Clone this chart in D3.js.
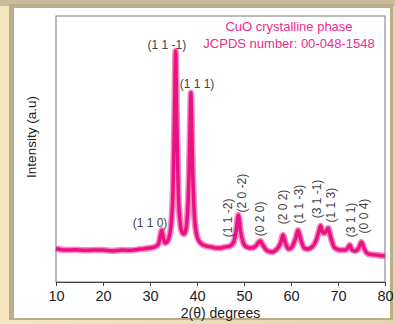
<!DOCTYPE html>
<html>
<head>
<meta charset="utf-8">
<script src="https://cdn.jsdelivr.net/npm/d3@7"></script>
<style>
  body { margin: 0; background: #efe1bb; }
  svg { display: block; }
  text { font-family: "Liberation Sans", Arial, sans-serif; }
</style>
</head>
<body>
<svg id="chart" width="395" height="324"></svg>
<script>
const W = 395, H = 324;

// XRD pattern: 2theta (deg) and intensity (a.u.)
const twoTheta = [10, 12, 14, 16, 18, 20, 22, 24, 26, 28, 30, 31, 31.8, 32.2, 32.5, 32.8, 33.2, 33.6, 34.0, 34.5,
  34.9, 35.2, 35.45, 35.7, 36.0, 36.4, 36.8, 37.2, 37.6, 38.0, 38.3, 38.55, 38.7, 38.85, 39.1, 39.4, 39.8, 40.3,
  41, 42, 43, 44, 45, 46, 47, 47.8, 48.3, 48.8, 49.3, 49.8, 50.5, 51.5, 52.5, 53.0, 53.5, 54.0, 55, 56, 57,
  57.8, 58.3, 58.8, 59.5, 60.3, 61.0, 61.5, 62.0, 62.8, 63.5, 64.5, 65.3, 65.9, 66.3, 66.8, 67.2, 67.9, 68.5,
  69.3, 70.5, 71.5, 72.1, 72.5, 73.0, 73.7, 74.4, 75.0, 75.6, 76.5, 78, 80];
const intensity = [126, 120, 121, 119, 120, 120, 117, 120, 119, 124, 128, 132, 143, 173, 195, 169, 147, 150, 165, 214,
  346, 609, 868, 609, 346, 226, 188, 180, 195, 263, 402, 609, 711, 609, 402, 263, 188, 158,
  143, 135, 132, 128, 128, 132, 135, 150, 188, 252, 188, 150, 132, 128, 135, 147, 154, 139, 117, 113, 124,
  147, 177, 147, 124, 135, 165, 195, 165, 128, 124, 132, 154, 188, 211, 184, 184, 203, 165,
  128, 120, 120, 128, 139, 120, 117, 128, 150, 124, 105, 102, 98];

// peak labels: text, 2theta, intensity position, vertical?
const peakLabels = ["(1 1 0)", "(1 1 -1)", "(1 1 1)", "(1 1 -2)", "(2 0 -2)", "(0 2 0)", "(2 0 2)", "(1 1 -3)",
  "(3 1 -1)", "(1 1 3)", "(3 1 1)", "(0 0 4)"];
const labelTheta = [30.0, 33.6, 40.0, 46.6, 49.6, 53.4, 58.3, 61.7, 65.5, 68.5, 72.8, 75.5];
const labelInt = [222, 891, 744, 241, 334, 237, 282, 293, 312, 289, 233, 248];
const labelVertical = [false, false, false, true, true, true, true, true, true, true, true, true];

const xTicks = [10, 20, 30, 40, 50, 60, 70, 80];
const xMinor = [15, 25, 35, 45, 55, 65, 75];
const legendLines = ["CuO crystalline phase", "JCPDS number: 00-048-1548"];

const svg = d3.select("#chart");

// beige surround with a soft shadow
const defs = svg.append("defs");
const grad = defs.append("linearGradient").attr("id", "side").attr("x1", 0).attr("x2", 1);
grad.append("stop").attr("offset", 0).attr("stop-color", "#f4e6c0");
grad.append("stop").attr("offset", 1).attr("stop-color", "#e4d4ab");
svg.append("rect").attr("width", W).attr("height", H).attr("fill", "url(#side)");
svg.append("rect").attr("width", W).attr("height", 6).attr("fill", "#cbbb98");
svg.append("rect").attr("x", 9).attr("y", 4).attr("width", 384).attr("height", 316).attr("fill", "#bcad8d");
svg.append("rect").attr("x", 14).attr("y", 8).attr("width", 376).attr("height", 310).attr("fill", "#fff");

const x = d3.scaleLinear().domain([10, 80]).range([56, 385]);
const y = d3.scaleLinear().domain([0, 1000]).range([282, 16]);

// frame
svg.append("rect")
  .attr("x", x(10)).attr("y", y(1000))
  .attr("width", x(80) - x(10)).attr("height", y(0) - y(1000))
  .attr("fill", "none").attr("stroke", "#777").attr("stroke-width", 1);

// pattern (thick band stands in for the noisy trace)
const line = d3.line()
  .x((d, i) => x(twoTheta[i]))
  .y(d => y(d))
  .curve(d3.curveMonotoneX);

svg.append("path")
  .datum(intensity)
  .attr("d", line)
  .attr("fill", "none")
  .attr("stroke", "#f0409a")
  .attr("stroke-width", 6.5)
  .attr("stroke-opacity", 0.6)
  .attr("stroke-linejoin", "round");
svg.append("path")
  .datum(intensity)
  .attr("d", line)
  .attr("fill", "none")
  .attr("stroke", "#ea1282")
  .attr("stroke-width", 3.5)
  .attr("stroke-linejoin", "round");

// x axis
const gx = svg.append("g").attr("transform", `translate(0,${y(0)})`);
gx.call(d3.axisBottom(x).tickValues(xMinor).tickSize(2).tickFormat(""));
gx.call(d3.axisBottom(x).tickValues(xTicks).tickSize(4).tickPadding(5).tickFormat(d3.format("d")));
gx.selectAll("path.domain").attr("stroke", "#444");
gx.selectAll("line").attr("stroke", "#444");
gx.selectAll("text").attr("font-size", 14.5).attr("fill", "#222")
  .attr("font-family", "'Liberation Sans', Arial, sans-serif");

svg.append("text")
  .attr("x", (x(10) + x(80)) / 2).attr("y", 318)
  .attr("text-anchor", "middle").attr("font-size", 14).attr("fill", "#222")
  .text("2(θ) degrees");

svg.append("text")
  .attr("transform", `translate(31,${(y(0) + y(1000)) / 2 - 12}) rotate(-90)`)
  .attr("text-anchor", "middle").attr("dominant-baseline", "central")
  .attr("font-size", 13.5).attr("fill", "#222")
  .text("Intensity (a.u)");

// legend text
svg.selectAll(".legend").data(legendLines).join("text")
  .attr("class", "legend")
  .attr("x", 289).attr("y", (d, i) => 26 + i * 17)
  .attr("text-anchor", "middle").attr("dominant-baseline", "central")
  .attr("font-size", 13).attr("fill", "#ee2a8e")
  .text(d => d);

// peak labels
svg.selectAll(".peak").data(peakLabels).join("text")
  .attr("class", "peak")
  .attr("transform", (d, i) => `translate(${x(labelTheta[i])},${y(labelInt[i])})` + (labelVertical[i] ? " rotate(-90)" : ""))
  .attr("text-anchor", "middle").attr("dominant-baseline", "central")
  .attr("font-size", 12).attr("fill", "#444")
  .text(d => d);
</script>
</body>
</html>
